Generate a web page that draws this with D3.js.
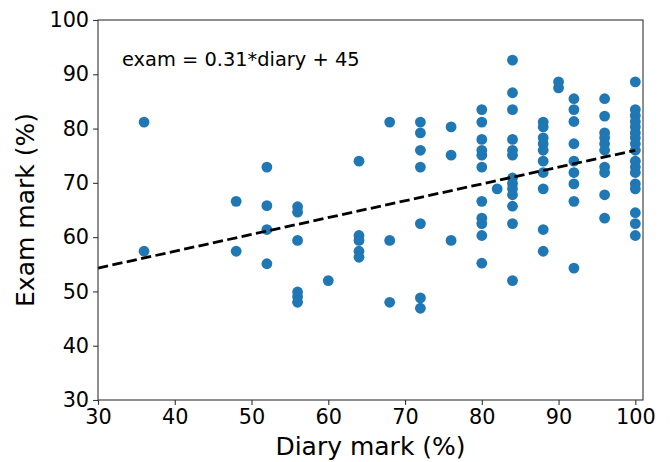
<!DOCTYPE html>
<html>
<head>
<meta charset="utf-8">
<script src="https://cdn.jsdelivr.net/npm/d3@7"></script>
<style>
  body { margin: 0; background: #fff; }
  svg text { font-family: "DejaVu Sans", sans-serif; fill: #000; }
</style>
</head>
<body>
<div id="chart"></div>
<script>
// diary marks (x) and the exam marks found at each of them (y)
const diaryMarks = [36, 48, 52, 56, 60, 64, 68, 72, 76, 80, 82, 84, 88, 90, 92, 96, 100];
const examMarks = [
  [81.2, 57.4],
  [66.6, 57.4],
  [72.9, 65.8, 61.4, 55.1],
  [65.6, 64.6, 59.4, 49.9, 49.0, 48.0],
  [52.0],
  [74.0, 60.3, 59.4, 57.4, 56.3],
  [81.2, 59.4, 48.0],
  [81.2, 79.2, 76.0, 72.9, 62.5, 48.8, 46.9],
  [80.3, 75.1, 59.4],
  [83.5, 81.2, 78.0, 76.0, 75.1, 72.9, 66.6, 63.5, 62.5, 60.3, 55.2],
  [68.9],
  [92.6, 86.6, 83.5, 78.0, 76.0, 75.1, 70.9, 69.9, 68.9, 67.8, 65.7, 62.5, 52.0],
  [81.2, 80.3, 78.3, 77.2, 76.0, 74.0, 71.9, 68.9, 61.4, 57.4],
  [88.6, 87.5],
  [85.5, 83.5, 81.3, 77.2, 74.0, 71.9, 69.8, 66.6, 54.3],
  [85.5, 82.3, 79.2, 78.3, 77.2, 76.0, 72.9, 71.9, 67.8, 63.5],
  [88.6, 83.5, 82.4, 81.3, 80.3, 79.2, 78.3, 77.2, 76.0, 74.0, 72.9, 71.9, 69.8, 68.9, 64.5, 62.5, 60.3]
];
const xTicks = [30, 40, 50, 60, 70, 80, 90, 100];
const yTicks = [30, 40, 50, 60, 70, 80, 90, 100];
const fitSlope = 0.31, fitIntercept = 45;
const fitRange = [30, 100];

const margin = { top: 20, right: 27, bottom: 62, left: 98 },
  width = 670 - margin.left - margin.right,
  height = 462 - margin.top - margin.bottom;

const points = [];
diaryMarks.forEach(function (d, i) {
  examMarks[i].forEach(function (e) { points.push({ diary: d, exam: e }); });
});

const svg = d3.select("#chart")
  .append("svg")
  .attr("width", 670)
  .attr("height", 462)
  .append("g")
  .attr("transform", `translate(${margin.left},${margin.top})`);

const x = d3.scaleLinear().domain([30, 101]).range([0, width]);
const y = d3.scaleLinear().domain([30, 100]).range([height, 0]);

svg.selectAll(".dot")
  .data(points)
  .join("circle")
  .attr("class", "dot")
  .attr("cx", d => x(d.diary))
  .attr("cy", d => y(d.exam))
  .attr("r", 5.4)
  .style("fill", "#1f77b4");

svg.append("path")
  .datum(fitRange)
  .attr("d", d3.line().x(d => x(d)).y(d => y(fitSlope * d + fitIntercept)))
  .attr("fill", "none")
  .attr("stroke", "black")
  .attr("stroke-width", 2.8)
  .attr("stroke-dasharray", "10.3,4.4");

// frame
svg.append("rect")
  .attr("width", width)
  .attr("height", height)
  .attr("fill", "none")
  .attr("stroke", "#333")
  .attr("stroke-width", 1.1);

const xAxis = svg.append("g")
  .attr("transform", `translate(0,${height})`)
  .call(d3.axisBottom(x).tickValues(xTicks).tickSize(4.9).tickPadding(4));
const yAxis = svg.append("g")
  .call(d3.axisLeft(y).tickValues(yTicks).tickSize(4.9).tickPadding(4));

[xAxis, yAxis].forEach(function (a) {
  a.select(".domain").remove();
  a.selectAll(".tick line").attr("stroke", "#333").attr("stroke-width", 1.1);
  a.selectAll(".tick text")
    .style("font-family", "DejaVu Sans, sans-serif")
    .style("font-size", "20.8px")
    .attr("fill", "#000");
});

svg.append("text")
  .attr("x", width / 2)
  .attr("y", height + 55)
  .attr("text-anchor", "middle")
  .style("font-size", "25px")
  .text("Diary mark (%)");

svg.append("text")
  .attr("transform", `translate(-64,${height / 2}) rotate(-90)`)
  .attr("text-anchor", "middle")
  .style("font-size", "25px")
  .text("Exam mark (%)");

svg.append("text")
  .attr("x", 24)
  .attr("y", 46)
  .style("font-size", "19.4px")
  .text("exam = 0.31*diary + 45");
</script>
</body>
</html>
